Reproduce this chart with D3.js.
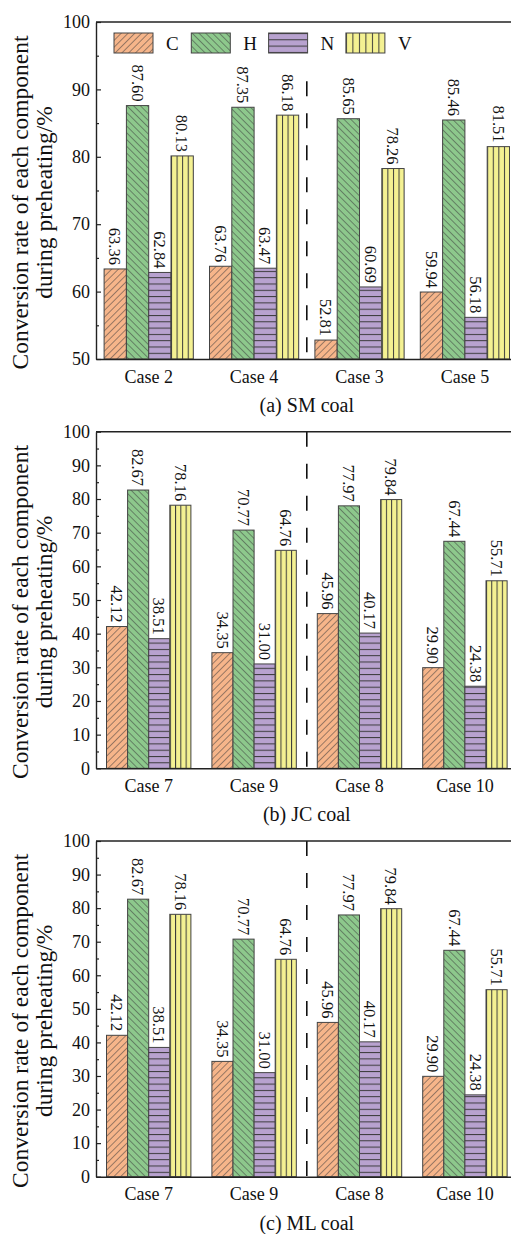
<!DOCTYPE html>
<html>
<head>
<meta charset="utf-8">
<script src="https://cdn.jsdelivr.net/npm/d3@7"></script>
<style>
  body { margin:0; background:#fff; }
  svg { display:block; font-family:"Liberation Serif","Times New Roman",serif; }
</style>
</head>
<body>
<div id="chart"></div>
<script>
// data
var series = ["C", "H", "N", "V"];
var casesSM = ["Case 2", "Case 4", "Case 3", "Case 5"];
var casesJC = ["Case 7", "Case 9", "Case 8", "Case 10"];
var casesML = ["Case 7", "Case 9", "Case 8", "Case 10"];

var smC = [63.36, 63.76, 52.81, 59.94];
var smH = [87.60, 87.35, 85.65, 85.46];
var smN = [62.84, 63.47, 60.69, 56.18];
var smV = [80.13, 86.18, 78.26, 81.51];

var jcC = [42.12, 34.35, 45.96, 29.90];
var jcH = [82.67, 70.77, 77.97, 67.44];
var jcN = [38.51, 31.00, 40.17, 24.38];
var jcV = [78.16, 64.76, 79.84, 55.71];

var mlC = [42.12, 34.35, 45.96, 29.90];
var mlH = [82.67, 70.77, 77.97, 67.44];
var mlN = [38.51, 31.00, 40.17, 24.38];
var mlV = [78.16, 64.76, 79.84, 55.71];

var ticksSM = [50, 60, 70, 80, 90, 100];
var minorSM = [55, 65, 75, 85, 95];
var ticksFull = [0, 10, 20, 30, 40, 50, 60, 70, 80, 90, 100];
var minorFull = [5, 15, 25, 35, 45, 55, 65, 75, 85, 95];

var fills = {C:"#f6b58a", H:"#8dc88c", N:"#b8a2cf", V:"#f4f192"};
var hatchColor = "#3a3a3a";
var serif = "Liberation Serif";

var W = 511, H = 1234;
var svg = d3.select("#chart").append("svg").attr("width", W).attr("height", H);
var defs = svg.append("defs");

// hatch patterns
function diagPattern(id, fill, angle){
  var p = defs.append("pattern").attr("id", id)
    .attr("patternUnits", "userSpaceOnUse")
    .attr("width", 4.8).attr("height", 4.8)
    .attr("patternTransform", "rotate(" + angle + ")");
  p.append("rect").attr("width", 4.8).attr("height", 4.8).attr("fill", fill);
  p.append("line").attr("x1", 0).attr("y1", 0).attr("x2", 0).attr("y2", 4.8)
    .attr("stroke", hatchColor).attr("stroke-width", 1);
}
diagPattern("patC", fills.C, 45);
diagPattern("patH", fills.H, -45);

var pn = defs.append("pattern").attr("id", "patN")
  .attr("patternUnits", "userSpaceOnUse").attr("width", 10).attr("height", 6.3);
pn.append("rect").attr("width", 10).attr("height", 6.3).attr("fill", fills.N);
pn.append("line").attr("x1", 0).attr("y1", 0.5).attr("x2", 10).attr("y2", 0.5)
  .attr("stroke", hatchColor).attr("stroke-width", 1);

function vertPattern(id, cols){
  var p = defs.append("pattern").attr("id", id)
    .attr("patternUnits", "objectBoundingBox").attr("width", 1/cols).attr("height", 1);
  p.append("rect").attr("width", 50).attr("height", 2000).attr("fill", fills.V);
  p.append("line").attr("x1", 0.5).attr("y1", 0).attr("x2", 0.5).attr("y2", 2000)
    .attr("stroke", hatchColor).attr("stroke-width", 1);
}
vertPattern("patV", 4);
vertPattern("patVleg", 6);

var patFor = {C:"url(#patC)", H:"url(#patH)", N:"url(#patN)", V:"url(#patV)"};
var fmt = d3.format(".2f");

var BarPanel = function(config){
  config = config || {};
  this.left = 96;
  this.right = 517.6;
  this.barW = 21.1;
  this.legend = false;
  Object.assign(this, config);
  this.x0 = d3.scaleBand().domain(this.cases).range([this.left, this.right]).padding(0);
  this.y = d3.scaleLinear().domain(this.domain).range([this.bottom, this.top]);
};

BarPanel.prototype.draw = function(){
  var that = this;
  var g = svg.append("g");
  var x1 = d3.scaleBand().domain(series).range([-2*that.barW, 2*that.barW]);

  var rows = [];
  that.cases.forEach(function(c, i){
    series.forEach(function(s){
      rows.push({c:c, s:s, v:that.values[s][i]});
    });
  });

  // divider
  g.append("line")
    .attr("x1", that.x0(that.cases[2])).attr("x2", that.x0(that.cases[2]))
    .attr("y1", that.y(that.dashFrom)).attr("y2", that.y(that.domain[0]))
    .attr("stroke", "#111").attr("stroke-width", 1.6)
    .attr("stroke-dasharray", "15,17");

  var bars = g.selectAll(".bar").data(rows).enter().append("g").attr("class", "bar");
  bars.append("rect")
    .attr("x", function(d){ return that.x0(d.c) + that.x0.bandwidth()/2 + x1(d.s); })
    .attr("width", x1.bandwidth())
    .attr("y", function(d){ return that.y(d.v); })
    .attr("height", function(d){ return that.y(that.domain[0]) - that.y(d.v); })
    .attr("fill", function(d){ return patFor[d.s]; })
    .attr("stroke", "#444").attr("stroke-width", 1);

  bars.append("text")
    .attr("transform", function(d){
      var cx = that.x0(d.c) + that.x0.bandwidth()/2 + x1(d.s) + x1.bandwidth()/2;
      return "translate(" + cx + "," + (that.y(d.v) - 4) + ") rotate(90)";
    })
    .attr("text-anchor", "end")
    .attr("dy", "0.35em")
    .attr("font-family", serif)
    .attr("font-size", 16.5)
    .attr("fill", "#111")
    .text(function(d){ return fmt(d.v); });

  // axes
  var yAxis = d3.axisLeft(that.y).tickValues(that.ticks).tickSize(-5).tickSizeOuter(0).tickPadding(6);
  var ya = g.append("g").attr("transform", "translate(" + that.left + ",0)").call(yAxis);
  ya.selectAll("text").attr("font-size", 18).attr("font-family", serif).attr("fill", "#111");
  var yMinor = d3.axisLeft(that.y).tickValues(that.minor).tickSize(-3).tickFormat("");
  var ym = g.append("g").attr("transform", "translate(" + that.left + ",0)").call(yMinor);
  ym.select(".domain").remove();
  g.selectAll(".tick line").attr("stroke", "#222").attr("stroke-width", 1.2);
  ya.select(".domain").attr("stroke", "#222").attr("stroke-width", 1.4);

  var xAxis = d3.axisBottom(that.x0).tickSize(0).tickSizeOuter(0).tickPadding(11);
  var xa = g.append("g").attr("transform", "translate(0," + that.y(that.domain[0]) + ")").call(xAxis);
  xa.selectAll("text").attr("font-size", 18).attr("font-family", serif).attr("fill", "#111");
  xa.select(".domain").attr("stroke", "#222").attr("stroke-width", 1.4);

  g.append("line")
    .attr("x1", that.left).attr("x2", that.right)
    .attr("y1", that.y(that.domain[1])).attr("y2", that.y(that.domain[1]))
    .attr("stroke", "#222").attr("stroke-width", 1.4);

  // y title
  var cy = (that.top + that.bottom)/2 + 12;
  var yt = g.append("text")
    .attr("transform", "translate(21," + cy + ") rotate(-90)")
    .attr("text-anchor", "middle").attr("font-family", serif)
    .attr("font-size", 23.5).attr("fill", "#111");
  yt.append("tspan").attr("x", 0).attr("dy", "0.3em").text("Conversion rate of each component");
  yt.append("tspan").attr("x", 0).attr("dy", "1.0em").text("during preheating/%");

  // caption
  g.append("text")
    .attr("x", (that.left + that.right)/2)
    .attr("y", that.y(that.domain[0]) + 53)
    .attr("text-anchor", "middle").attr("font-family", serif)
    .attr("font-size", 20).attr("fill", "#111")
    .text(that.caption);

  if(that.legend){
    var lg = g.append("g").attr("transform", "translate(114," + (that.top + 11) + ")");
    var items = lg.selectAll(".leg").data(series).enter().append("g")
      .attr("transform", function(d, i){ return "translate(" + (i*77.3) + ",0)"; });
    items.append("rect").attr("width", 39).attr("height", 20)
      .attr("fill", function(d){ return d === "V" ? "url(#patVleg)" : patFor[d]; })
      .attr("stroke", "#444").attr("stroke-width", 1);
    items.append("text").attr("x", 52).attr("y", 17).attr("font-family", serif)
      .attr("font-size", 19).attr("fill", "#111").text(function(d){ return d; });
  }
};

new BarPanel({
  cases: casesSM, values: {C:smC, H:smH, N:smN, V:smV},
  domain: [50, 100], top: 22, bottom: 359, barW: 22.3,
  ticks: ticksSM, minor: minorSM, dashFrom: 91.2,
  caption: "(a) SM coal", legend: true
}).draw();

new BarPanel({
  cases: casesJC, values: {C:jcC, H:jcH, N:jcN, V:jcV},
  domain: [0, 100], top: 431.7, bottom: 768.3,
  ticks: ticksFull, minor: minorFull, dashFrom: 100,
  caption: "(b) JC coal"
}).draw();

new BarPanel({
  cases: casesML, values: {C:mlC, H:mlH, N:mlN, V:mlV},
  domain: [0, 100], top: 841, bottom: 1176.7,
  ticks: ticksFull, minor: minorFull, dashFrom: 100,
  caption: "(c) ML coal"
}).draw();
</script>
</body>
</html>
